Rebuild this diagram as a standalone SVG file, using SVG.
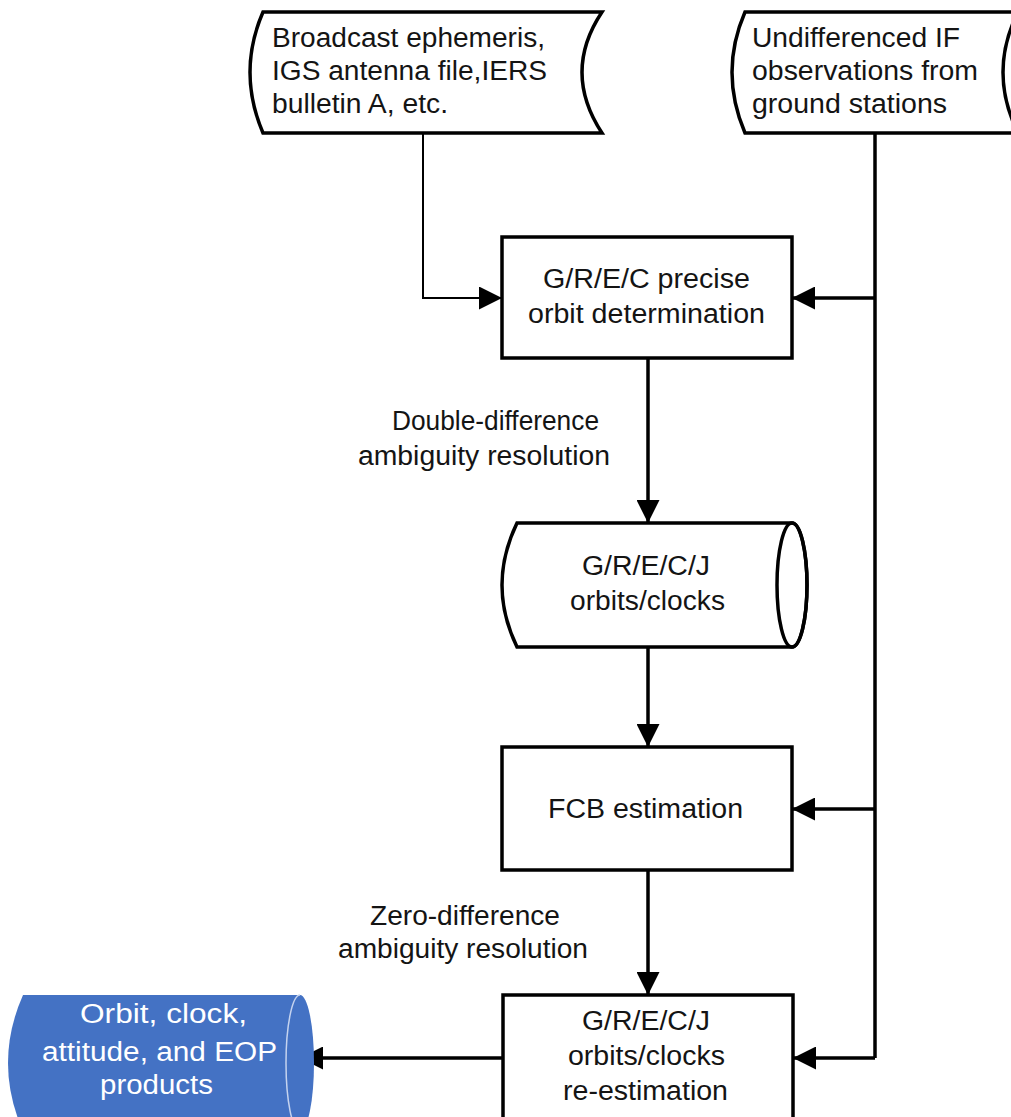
<svg xmlns="http://www.w3.org/2000/svg" width="1011" height="1117" viewBox="0 0 1011 1117">
<style>
.shape{fill:#fff;stroke:#000;stroke-width:3.5}
.t{font-family:"Liberation Sans",Arial,sans-serif;font-size:27px;fill:#141414}
.w{font-family:"Liberation Sans",Arial,sans-serif;font-size:27px;fill:#fff}
.c{fill:none;stroke:#000;stroke-width:3.5}
.thin{fill:none;stroke:#000;stroke-width:2}
</style>
<defs>
<marker id="ah" markerUnits="userSpaceOnUse" markerWidth="23" markerHeight="23" refX="23" refY="11.5" orient="auto">
<path d="M0,0 L23,11.5 L0,23 Z" fill="#000"/>
</marker>
</defs>
<rect width="1011" height="1117" fill="#fff"/>
<g id="connectors">
<path class="thin" d="M423,133 V298 H502" marker-end="url(#ah)"/>
<path class="c" d="M875,133 V1058"/>
<path class="c" d="M875,298 H792" marker-end="url(#ah)"/>
<path class="c" d="M875,809 H792" marker-end="url(#ah)"/>
<path class="c" d="M875,1058 H793" marker-end="url(#ah)"/>
<path class="c" d="M648,358 V523" marker-end="url(#ah)"/>
<path class="c" d="M648,647 V747" marker-end="url(#ah)"/>
<path class="c" d="M648,870 V995" marker-end="url(#ah)"/>
<path class="c" d="M503,1058 H300" marker-end="url(#ah)"/>
</g>
<g id="label-dd">
<text class="t" x="392" y="430" textLength="207" lengthAdjust="spacingAndGlyphs">Double-difference</text>
<text class="t" x="358" y="465" textLength="252" lengthAdjust="spacingAndGlyphs">ambiguity resolution</text>
</g>
<g id="label-zd">
<text class="t" x="370" y="925" textLength="190" lengthAdjust="spacingAndGlyphs">Zero-difference</text>
<text class="t" x="338" y="958" textLength="250" lengthAdjust="spacingAndGlyphs">ambiguity resolution</text>
</g>
<g id="input-ephemeris">
<path class="shape" d="M263,12 L602,12 Q562,72 602,133 L263,133 Q237,72 263,12 Z"/>
<text class="t" x="272" y="47" textLength="273" lengthAdjust="spacingAndGlyphs">Broadcast ephemeris,</text>
<text class="t" x="272" y="80" textLength="275" lengthAdjust="spacingAndGlyphs">IGS antenna file,IERS</text>
<text class="t" x="272" y="113" textLength="176" lengthAdjust="spacingAndGlyphs">bulletin A, etc.</text>
</g>
<g id="input-observations">
<path class="shape" d="M745,12 L1018,12 Q988,72 1018,133 L745,133 Q719,72 745,12 Z"/>
<text class="t" x="752" y="47" textLength="208" lengthAdjust="spacingAndGlyphs">Undifferenced IF</text>
<text class="t" x="752" y="80" textLength="226" lengthAdjust="spacingAndGlyphs">observations from</text>
<text class="t" x="752" y="113" textLength="195" lengthAdjust="spacingAndGlyphs">ground stations</text>
</g>
<g id="pod">
<rect class="shape" x="502" y="237" width="290" height="121"/>
<text class="t" x="543" y="288" textLength="207" lengthAdjust="spacingAndGlyphs">G/R/E/C precise</text>
<text class="t" x="528" y="323" textLength="237" lengthAdjust="spacingAndGlyphs">orbit determination</text>
</g>
<g id="orbits-clocks">
<path class="shape" d="M517,523 L792,523 A15,62 0 0 1 792,647 L517,647 Q487,585 517,523 Z"/>
<ellipse cx="792" cy="585" rx="15" ry="62" fill="none" stroke="#000" stroke-width="3.5"/>
<text class="t" x="582" y="575" textLength="128" lengthAdjust="spacingAndGlyphs">G/R/E/C/J</text>
<text class="t" x="570" y="610" textLength="155" lengthAdjust="spacingAndGlyphs">orbits/clocks</text>
</g>
<g id="fcb">
<rect class="shape" x="502" y="747" width="290" height="123"/>
<text class="t" x="548" y="818" textLength="195" lengthAdjust="spacingAndGlyphs">FCB estimation</text>
</g>
<g id="re-estimation">
<rect class="shape" x="503" y="995" width="290" height="135"/>
<text class="t" x="582" y="1030" textLength="128" lengthAdjust="spacingAndGlyphs">G/R/E/C/J</text>
<text class="t" x="568" y="1065" textLength="157" lengthAdjust="spacingAndGlyphs">orbits/clocks</text>
<text class="t" x="563" y="1100" textLength="165" lengthAdjust="spacingAndGlyphs">re-estimation</text>
</g>
<g id="products">
<path d="M23,995 L300,995 A14,68 0 0 1 300,1131 L23,1131 Q-7,1063 23,995 Z" fill="#4472C4"/>
<path d="M300,995 A14,68 0 0 0 300,1131" fill="none" stroke="#c5d3ef" stroke-width="1.5"/>
<text class="w" x="80" y="1023" textLength="167" lengthAdjust="spacingAndGlyphs">Orbit, clock,</text>
<text class="w" x="42" y="1061" textLength="235" lengthAdjust="spacingAndGlyphs">attitude, and EOP</text>
<text class="w" x="100" y="1094" textLength="113" lengthAdjust="spacingAndGlyphs">products</text>
</g>
</svg>
